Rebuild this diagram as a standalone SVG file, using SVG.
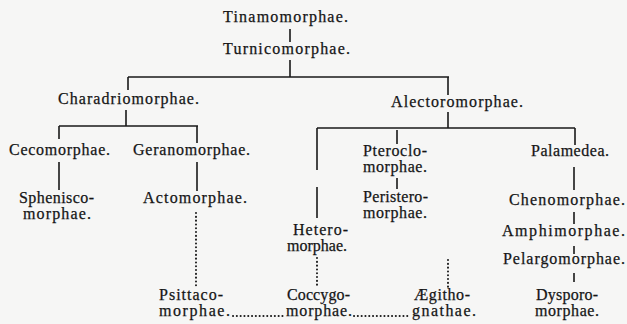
<svg xmlns="http://www.w3.org/2000/svg" width="627" height="324" viewBox="0 0 627 324">
<style>
text{font-family:"Liberation Serif","Times New Roman",serif;font-size:16px;fill:#151515;stroke:#151515;stroke-width:0.25}
.l{stroke:#1a1a1a;stroke-width:1.6;fill:none}
.d{stroke:#1a1a1a;stroke-width:2;stroke-linecap:round;stroke-dasharray:0.1 3.7;fill:none}
</style>
<rect width="627" height="324" fill="#f6f6f5"/>
<g id="connectors">
<path class="l" d="M290 29V42M290 60V77M128 77H449M128 77V90M448 77V95"/>
<path class="l" d="M126 110V126M59 126H198M59 126V139M197 126V143"/>
<path class="l" d="M448 112V128M317 128H575M397 130V144M575 128V145M317 128V170M317 187V218"/>
<path class="l" d="M59 162V190M197 162V191M397 178V189"/>
<path class="l" d="M574 167V190M574 212V224M574 246V254M574 273V282"/>
<path class="d" d="M196 213V287M317 258V285M448 260V287M233 316H284M354 316H410"/>
</g>
<g id="tinamomorphae"><text x="223" y="22" textLength="125">Tinamomorphae.</text></g>
<g id="turnicomorphae"><text x="223" y="54" textLength="127">Turnicomorphae.</text></g>
<g id="charadriomorphae"><text x="58" y="104" textLength="141">Charadriomorphae.</text></g>
<g id="alectoromorphae"><text x="391" y="107" textLength="132">Alectoromorphae.</text></g>
<g id="cecomorphae"><text x="9" y="155" textLength="101">Cecomorphae.</text></g>
<g id="geranomorphae"><text x="133" y="155" textLength="117">Geranomorphae.</text></g>
<g id="pteroclomorphae"><text><tspan x="363" y="156" textLength="64">Pteroclo-</tspan><tspan x="363" y="172" textLength="64">morphae.</tspan></text></g>
<g id="palamedea"><text x="531" y="156" textLength="78">Palamedea.</text></g>
<g id="spheniscomorphae"><text><tspan x="19" y="203" textLength="75">Sphenisco-</tspan><tspan x="23" y="219" textLength="68">morphae.</tspan></text></g>
<g id="actomorphae"><text x="143" y="203" textLength="104">Actomorphae.</text></g>
<g id="peristeromorphae"><text><tspan x="363" y="202" textLength="65">Peristero-</tspan><tspan x="363" y="218" textLength="64">morphae.</tspan></text></g>
<g id="chenomorphae"><text x="509" y="205" textLength="116">Chenomorphae.</text></g>
<g id="heteromorphae"><text><tspan x="293" y="235" textLength="55">Hetero-</tspan><tspan x="287" y="251" textLength="60">morphae.</tspan></text></g>
<g id="amphimorphae"><text x="502" y="236" textLength="123">Amphimorphae.</text></g>
<g id="pelargomorphae"><text x="503" y="264" textLength="122">Pelargomorphae.</text></g>
<g id="psittacomorphae"><text><tspan x="159" y="300" textLength="64">Psittaco-</tspan><tspan x="159" y="316" textLength="71">morphae.</tspan></text></g>
<g id="coccygomorphae"><text><tspan x="287" y="300" textLength="63">Coccygo-</tspan><tspan x="286" y="316" textLength="66">morphae.</tspan></text></g>
<g id="aegithognathae"><text><tspan x="414" y="300" textLength="56">Ægitho-</tspan><tspan x="412" y="316" textLength="64">gnathae.</tspan></text></g>
<g id="dysporomorphae"><text><tspan x="536" y="300" textLength="62">Dysporo-</tspan><tspan x="535" y="316" textLength="64">morphae.</tspan></text></g>
</svg>
